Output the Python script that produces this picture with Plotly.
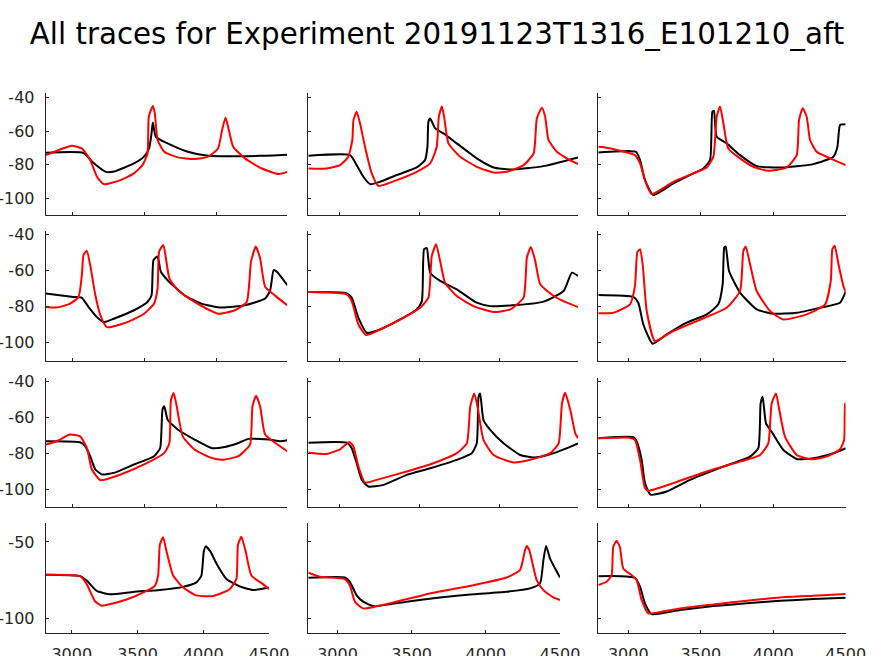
import plotly.graph_objects as go
from plotly.subplots import make_subplots

p11_black_t = [2812, 3075, 3145, 3230, 3280, 3425, 3495, 3530, 3547, 3556, 3577, 3659, 3799, 3940, 4300, 4490]
p11_black_v = [-72.9, -73.0, -79.0, -84.2, -84.2, -79.2, -75.2, -70.3, -61.4, -54.9, -63.4, -67.3, -72.3, -74.7, -74.7, -74.0]
p11_red_t = [2812, 2993, 3063, 3121, 3168, 3215, 3332, 3425, 3484, 3519, 3528, 3556, 3570, 3589, 3636, 3729, 3846, 3940,
             4009, 4037, 4061, 4084, 4114, 4196, 4313, 4430, 4490]
p11_red_v = [-74.3, -68.7, -70.3, -77.2, -87.1, -91.5, -89.1, -85.1, -80.2, -73.3, -51.5, -45.1, -49.5, -65.3, -72.3, -75.6,
             -76.6, -75.2, -70.3, -59.4, -51.9, -59.4, -69.3, -76.2, -82.2, -85.5, -84.2]

p12_black_t = [2806, 3067, 3108, 3150, 3192, 3254, 3358, 3483, 3535, 3550, 3556, 3567, 3598, 3650, 3733, 3858, 3963, 4067,
               4275, 4490]
p12_black_v = [-74.7, -74.3, -80.2, -87.1, -91.5, -90.1, -86.1, -81.6, -77.2, -69.3, -54.5, -52.5, -58.4, -61.4, -67.3,
               -76.2, -81.6, -82.8, -80.8, -75.6]
p12_red_t = [2806, 2921, 3004, 3056, 3081, 3088, 3108, 3129, 3160, 3202, 3244, 3358, 3483, 3567, 3608, 3621, 3640, 3654,
             3681, 3754, 3858, 3963, 4046, 4150, 4213, 4233, 4265, 4285, 4306, 4358, 4431, 4490]
p12_red_v = [-82.2, -82.2, -80.2, -75.2, -65.3, -53.5, -48.5, -55.4, -69.3, -85.1, -92.5, -89.1, -84.2, -79.2, -69.3,
             -51.5, -45.5, -51.5, -67.3, -75.2, -81.2, -84.6, -84.2, -80.2, -73.3, -52.5, -46.1, -51.5, -65.3, -72.3,
             -76.8, -79.6]

p13_black_t = [2793, 3012, 3053, 3081, 3115, 3173, 3311, 3449, 3518, 3564, 3580, 3591, 3610, 3679, 3771, 3886, 4047, 4277,
               4415, 4443, 4461, 4500]
p13_black_v = [-72.7, -71.9, -72.3, -77.2, -89.1, -98.0, -91.1, -85.1, -82.2, -77.2, -48.5, -47.9, -63.4, -67.3, -74.3,
               -80.8, -81.6, -79.6, -75.2, -69.3, -56.4, -56.0]
p13_red_t = [2793, 2850, 3046, 3081, 3115, 3161, 3311, 3449, 3541, 3587, 3610, 3633, 3656, 3690, 3771, 3863, 3966, 4093,
             4162, 4178, 4203, 4231, 4254, 4300, 4392, 4500]
p13_red_v = [-69.3, -69.9, -74.3, -79.2, -89.1, -97.4, -90.1, -85.1, -81.6, -75.2, -51.5, -45.5, -55.4, -70.3, -76.2,
             -81.2, -83.6, -81.6, -74.3, -53.5, -46.5, -51.5, -65.3, -72.3, -76.2, -80.2]

p21_black_t = [2812, 3005, 3063, 3110, 3168, 3215, 3285, 3425, 3519, 3547, 3561, 3589, 3612, 3659, 3776, 3893, 4033, 4196,
               4336, 4371, 4395, 4418, 4490]
p21_black_v = [-72.6, -74.5, -75.0, -80.1, -85.7, -88.5, -86.6, -81.9, -77.3, -73.6, -54.0, -52.1, -60.5, -65.2, -73.6,
               -78.2, -80.4, -79.1, -75.4, -70.8, -59.6, -60.5, -68.0]
p21_red_t = [2812, 2888, 2981, 3040, 3063, 3075, 3098, 3121, 3157, 3192, 3238, 3379, 3495, 3565, 3589, 3600, 3629, 3647,
             3671, 3729, 3846, 4009, 4126, 4208, 4238, 4271, 4301, 4336, 4407, 4490]
p21_red_v = [-80.1, -80.4, -78.2, -74.5, -62.4, -51.2, -48.9, -56.8, -73.6, -84.7, -91.3, -88.5, -83.8, -78.2, -69.8,
             -49.3, -45.6, -53.0, -64.2, -70.7, -77.3, -83.8, -81.9, -77.3, -54.9, -46.5, -53.0, -68.8, -73.9, -79.1]

p22_black_t = [2806, 3046, 3077, 3119, 3171, 3254, 3379, 3483, 3515, 3529, 3546, 3567, 3629, 3733, 3858, 3942, 4108, 4275,
               4400, 4452, 4490]
p22_black_v = [-71.8, -72.5, -74.9, -86.1, -94.4, -92.6, -87.0, -81.4, -76.8, -48.0, -47.4, -61.0, -65.6, -70.3, -77.7,
               -79.6, -79.0, -77.1, -71.2, -61.0, -62.8]
p22_red_t = [2806, 3046, 3077, 3119, 3167, 3254, 3400, 3504, 3556, 3577, 3604, 3629, 3660, 3733, 3838, 3963, 4067, 4150,
             4171, 4196, 4223, 4254, 4338, 4421, 4490]
p22_red_v = [-71.8, -73.1, -76.8, -89.8, -95.7, -92.6, -86.1, -80.5, -74.9, -51.7, -45.2, -54.5, -66.6, -74.0, -79.6,
             -82.9, -81.4, -74.9, -52.6, -46.7, -54.5, -67.5, -74.0, -77.7, -80.1]

p23_black_t = [2793, 3035, 3069, 3104, 3168, 3265, 3403, 3541, 3621, 3651, 3662, 3672, 3695, 3771, 3886, 4001, 4162, 4323,
               4461, 4500]
p23_black_v = [-73.4, -74.5, -77.7, -89.8, -100.5, -95.3, -88.8, -84.2, -78.6, -67.5, -47.1, -46.5, -60.1, -72.1, -81.4,
               -83.8, -83.3, -80.5, -77.7, -71.6]
p23_red_t = [2793, 2896, 3012, 3046, 3062, 3081, 3099, 3127, 3184, 3288, 3472, 3679, 3771, 3794, 3810, 3840, 3886, 3978,
             4070, 4231, 4358, 4397, 4408, 4424, 4450, 4484, 4500]
p23_red_v = [-83.6, -83.3, -78.6, -68.4, -49.8, -48.0, -56.3, -82.3, -99.1, -94.4, -87.9, -80.5, -71.2, -48.9, -46.5,
             -56.3, -71.2, -82.3, -87.0, -84.2, -78.6, -65.6, -48.0, -46.1, -56.3, -68.4, -71.6]

p31_black_t = [2812, 3051, 3086, 3121, 3157, 3203, 3285, 3425, 3565, 3607, 3623, 3636, 3659, 3729, 3846, 3963, 4056, 4150,
               4220, 4360, 4442, 4490]
p31_black_v = [-73.2, -73.8, -76.0, -81.6, -89.0, -91.8, -90.9, -86.2, -81.6, -77.0, -55.6, -53.7, -61.2, -66.7, -72.3,
               -77.0, -76.4, -74.2, -71.9, -72.3, -73.2, -72.7]
p31_red_t = [2812, 2888, 2981, 3051, 3098, 3133, 3192, 3332, 3495, 3636, 3671, 3682, 3701, 3722, 3764, 3846, 3963, 4044,
             4150, 4231, 4248, 4273, 4301, 4336, 4407, 4490]
p31_red_v = [-75.1, -73.2, -69.5, -70.5, -77.0, -89.0, -95.0, -91.8, -86.2, -79.7, -74.2, -50.0, -46.3, -53.7, -70.5,
             -77.9, -82.5, -83.5, -81.6, -75.1, -53.7, -47.8, -53.7, -69.5, -74.2, -78.8]

p32_black_t = [2806, 3046, 3077, 3108, 3140, 3181, 3275, 3421, 3567, 3733, 3827, 3858, 3869, 3879, 3900, 3942, 4025, 4129,
               4213, 4317, 4421, 4490]
p32_black_v = [-74.0, -74.0, -77.1, -85.5, -94.8, -98.5, -97.6, -92.0, -88.3, -83.6, -79.9, -74.4, -48.4, -46.5, -61.4,
               -66.9, -74.4, -80.9, -82.3, -80.5, -77.1, -74.4]
p32_red_t = [2806, 2921, 3004, 3063, 3088, 3119, 3160, 3233, 3421, 3588, 3733, 3796, 3817, 3842, 3863, 3900, 3963, 4088,
             4192, 4317, 4369, 4390, 4410, 4442, 4473, 4490]
p32_red_v = [-79.6, -80.3, -77.7, -73.6, -76.2, -87.4, -96.3, -94.8, -90.1, -85.5, -79.9, -74.4, -53.9, -46.5, -53.9,
             -72.5, -80.9, -85.1, -83.6, -79.9, -74.4, -52.1, -46.1, -55.8, -68.8, -71.6]

p33_black_t = [2793, 3035, 3058, 3092, 3115, 3154, 3265, 3426, 3656, 3840, 3897, 3913, 3927, 3950, 3989, 4070, 4162, 4277,
               4415, 4500]
p33_black_v = [-71.6, -71.0, -73.4, -83.6, -96.6, -103.1, -101.3, -94.8, -87.4, -81.8, -77.1, -52.1, -48.4, -63.2, -67.9,
               -78.1, -83.1, -82.7, -79.9, -77.1]
p33_red_t = [2793, 3000, 3046, 3081, 3115, 3138, 3311, 3541, 3771, 3909, 3966, 3989, 4019, 4042, 4081, 4162, 4266, 4369,
             4461, 4489, 4496, 4500]
p33_red_v = [-71.6, -71.2, -72.5, -83.6, -99.4, -100.9, -96.6, -90.1, -84.6, -80.9, -74.4, -52.1, -46.5, -55.8, -70.6,
             -80.9, -83.3, -81.8, -77.7, -72.5, -52.1, -52.1]

p41_black_t = [2802, 3063, 3114, 3190, 3291, 3468, 3670, 3847, 3948, 3986, 4004, 4019, 4055, 4100, 4176, 4277, 4378, 4500]
p41_black_v = [-71.5, -72.4, -75.3, -82.1, -84.3, -82.7, -81.4, -79.4, -76.5, -72.0, -56.3, -52.9, -56.3, -64.1, -74.2,
               -79.1, -81.4, -80.0]
p41_red_t = [2802, 3063, 3114, 3177, 3228, 3417, 3569, 3632, 3657, 3670, 3695, 3721, 3771, 3847, 3948, 4075, 4201, 4252,
             4264, 4290, 4323, 4366, 4454, 4500]
p41_red_v = [-71.5, -72.4, -77.6, -88.8, -91.7, -87.7, -82.1, -78.7, -72.0, -51.8, -46.9, -56.3, -72.0, -79.8, -85.0,
             -85.4, -80.9, -74.2, -51.8, -46.6, -56.3, -72.0, -77.6, -80.9]

p42_black_t = [2803, 3049, 3083, 3128, 3173, 3241, 3466, 3691, 3915, 4140, 4298, 4365, 4388, 4406, 4433, 4467, 4500]
p42_black_v = [-73.5, -73.3, -76.1, -84.8, -89.1, -92.0, -89.1, -86.3, -84.3, -82.6, -80.4, -77.2, -62.0, -52.6, -60.9,
               -67.4, -73.3]
p42_red_t = [2803, 2881, 3049, 3083, 3117, 3173, 3353, 3623, 3915, 4140, 4230, 4264, 4275, 4293, 4343, 4388, 4455, 4500]
p42_red_v = [-70.2, -72.8, -74.3, -78.3, -89.1, -93.5, -90.2, -83.7, -78.3, -73.3, -68.5, -55.4, -52.6, -55.4, -75.0,
             -81.5, -86.3, -88.0]

p43_black_t = [2793, 2943, 3046, 3081, 3115, 3161, 3357, 3587, 3817, 4047, 4277, 4500]
p43_black_v = [-72.4, -72.4, -73.5, -79.3, -90.2, -97.2, -94.6, -92.0, -90.2, -88.5, -87.4, -86.5]
p43_red_t = [2793, 2850, 2885, 2896, 2919, 2942, 2965, 3023, 3058, 3092, 3138, 3196, 3357, 3587, 3817, 4047, 4277, 4500]
p43_red_v = [-78.3, -76.1, -71.7, -53.3, -49.3, -53.3, -67.4, -71.7, -75.0, -88.0, -96.7, -96.3, -93.5, -90.9, -88.5,
             -86.3, -85.2, -84.1]

x_ticks = [3000, 3500, 4000, 4500]
y_ticks_top = [-100, -80, -60, -40]
y_ticks_bottom = [-100, -50]

panels = [
    [(p11_black_t, p11_black_v, p11_red_t, p11_red_v),
     (p12_black_t, p12_black_v, p12_red_t, p12_red_v),
     (p13_black_t, p13_black_v, p13_red_t, p13_red_v)],
    [(p21_black_t, p21_black_v, p21_red_t, p21_red_v),
     (p22_black_t, p22_black_v, p22_red_t, p22_red_v),
     (p23_black_t, p23_black_v, p23_red_t, p23_red_v)],
    [(p31_black_t, p31_black_v, p31_red_t, p31_red_v),
     (p32_black_t, p32_black_v, p32_red_t, p32_red_v),
     (p33_black_t, p33_black_v, p33_red_t, p33_red_v)],
    [(p41_black_t, p41_black_v, p41_red_t, p41_red_v),
     (p42_black_t, p42_black_v, p42_red_t, p42_red_v),
     (p43_black_t, p43_black_v, p43_red_t, p43_red_v)],
]

W, H = 874, 656
# pixel boxes of the axes (top, bottom) per row and (left, right) per column
row_px = [(93.3, 215), (230.5, 360.5), (377.5, 506.7), (523, 633.3)]
col_px_top = [(45.7, 287.3), (308.3, 578), (598.3, 845.7)]
col_px_bottom = [(45.7, 269), (308.3, 560), (598.3, 845.7)]
xr_top = [[2812, 4490], [2806, 4490], [2793, 4500]]
xr_bottom = [[2802, 4500], [2803, 4500], [2793, 4500]]
y_range = [-109.8, -37.6]

fig = make_subplots(rows=4, cols=3)

axis_col = '#262626'
tick_font = dict(family='DejaVu Sans', size=16, color=axis_col)

for r in range(4):
    for c in range(3):
        bt, bv, rt, rv = panels[r][c]
        fig.add_trace(go.Scatter(x=bt, y=bv, mode='lines',
                                 line=dict(color='black', width=2, shape='spline', smoothing=0.5),
                                 showlegend=False, hoverinfo='skip'), row=r + 1, col=c + 1)
        fig.add_trace(go.Scatter(x=rt, y=rv, mode='lines',
                                 line=dict(color='red', width=2, shape='spline', smoothing=0.5),
                                 showlegend=False, hoverinfo='skip'), row=r + 1, col=c + 1)

        n = r * 3 + c + 1
        sfx = '' if n == 1 else str(n)
        last = r == 3
        cpx = col_px_bottom[c] if last else col_px_top[c]
        xr = xr_bottom[c] if last else xr_top[c]
        top, bot = row_px[r]
        yt = y_ticks_bottom if last else y_ticks_top
        fig.layout['xaxis' + sfx].update(
            domain=[cpx[0] / W, cpx[1] / W], range=xr, tickvals=x_ticks,
            ticktext=[str(v) for v in x_ticks],
            showticklabels=last, ticks='inside', ticklen=3, tickcolor=axis_col,
            showline=True, linecolor=axis_col, linewidth=1, showgrid=False, zeroline=False,
            tickfont=tick_font, ticklabelstandoff=6, automargin=False)
        fig.layout['yaxis' + sfx].update(
            domain=[1 - bot / H, 1 - top / H], range=y_range,
            tickvals=yt, ticktext=[str(v) for v in yt],
            showticklabels=(c == 0), ticks='inside', ticklen=3, tickcolor=axis_col,
            showline=True, linecolor=axis_col, linewidth=1, showgrid=False, zeroline=False,
            tickfont=tick_font, ticklabelstandoff=7, automargin=False)

fig.update_layout(
    width=W, height=H,
    margin=dict(l=0, r=0, t=0, b=0),
    paper_bgcolor='white', plot_bgcolor='white',
    title=dict(text='All traces for Experiment 20191123T1316_E101210_aft',
               x=0.5, xanchor='center', y=1 - 34 / H, yanchor='middle',
               font=dict(family='DejaVu Sans', size=29.3, color='black')),
)

# drop the browser's default 8px body margin so the figure sits at the page corner
fig.write_html("out.html", config={'displayModeBar': False},
               post_script="document.body.style.margin = '0';")
